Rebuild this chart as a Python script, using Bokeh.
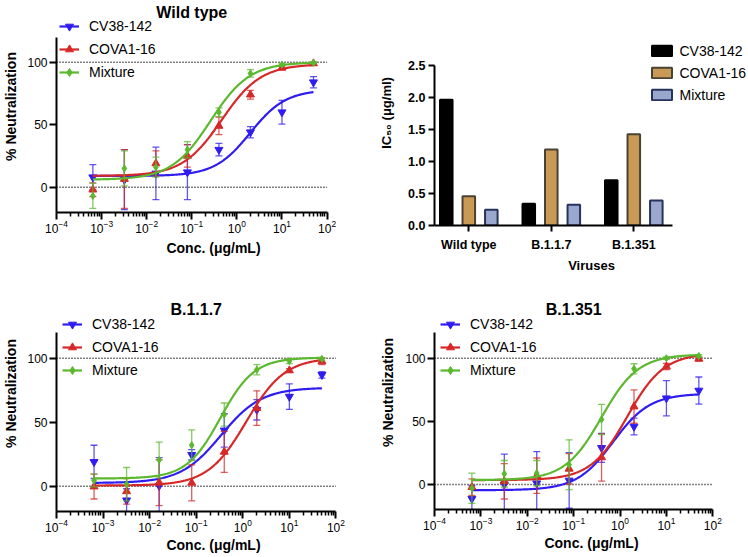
import numpy as np
from bokeh.plotting import figure
from bokeh.models import (Range1d, FixedTicker, Legend, LegendItem, Label,
                          NumeralTickFormatter, ColumnDataSource)
from bokeh.layouts import column, row
from bokeh.transform import dodge
from bokeh.embed import file_html
from bokeh.resources import INLINE

FONT = "Liberation Sans"
BLUE = "#2f1cf0"
RED = "#d62828"
GREEN = "#5cb82e"

series = ["CV38-142", "COVA1-16", "Mixture"]
conc = [0.00064, 0.0032, 0.016, 0.08, 0.4, 2, 10, 50]

# ---- Wild type ----
wt_cv38 = [8, 6, 11, 12, 30, 44, 60, 84]
wt_cv38_err = [10, 24, 21, 22, 5, 4.5, 9.5, 4.5]
wt_cova = [-2, 6.5, 19, 25, 49, 74, 95.5, 99]
wt_cova_err = [5.5, 23.5, 10, 9, 7, 3.5, 1.5, 1]
wt_mix = [-7, 15, 16, 30, 60, 91, 98, 99.5]
wt_mix_err = [10, 14, 8, 6.5, 3.5, 3, 1, 0.8]
# fitted 4PL curves: bottom, top, IC50, hill
wt_fit_cv38 = [9, 78, 1.98, 1.1]
wt_fit_cova = [9, 98.5, 0.46, 1.0]
wt_fit_mix = [6, 100, 0.26, 1.0]

# ---- B.1.1.7 ----
b117_cv38 = [19, -11, 0.3, 24.5, 43.6, 59.7, 70, 87]
b117_cv38_err = [13, 9, 22, 4, 13, 8, 10, 2.5]
b117_cova = [-0.3, -4, 2.8, 2.6, 26.8, 61, 90.4, 97.5]
b117_cova_err = [9.7, 10, 18, 14, 16, 13.5, 1.5, 2.5]
b117_mix = [4.4, 1.6, 20.5, 32, 56, 91, 97.7, 99.5]
b117_mix_err = [5, 13, 14, 12, 9, 4, 2, 1]
b117_fit_cv38 = [2.5, 77, 0.34, 1.0]
b117_fit_cova = [0.5, 100.5, 1.19, 1.05]
b117_fit_mix = [6, 100.5, 0.33, 1.2]

# ---- B.1.351 ----
b1351_cv38 = [-11.3, 0, 1, 3.2, 29, 45.9, 68.3, 74.4]
b1351_cv38_err = [10.5, 24, 25, 22, 11.5, 6.6, 13.9, 10.7]
b1351_cova = [-2.1, 2.5, 7, 12.4, 21.4, 61.7, 93.4, 99.5]
b1351_cova_err = [6.6, 14, 14, 12, 18.7, 13.2, 2.5, 1.5]
b1351_mix = [-3, 8.5, 9, 15.7, 51.5, 91.6, 100, 101.8]
b1351_mix_err = [12, 10.5, 10, 19.7, 12, 4, 1, 1]
b1351_fit_cv38 = [-4.5, 72, 0.71, 1.1]
b1351_fit_cova = [3.5, 104, 1.43, 1.1]
b1351_fit_mix = [3.5, 103, 0.40, 1.1]

# ---- IC50 bar chart ----
viruses = ["Wild type", "B.1.1.7", "B.1.351"]
ic50_cv38 = [1.97, 0.34, 0.71]
ic50_cova = [0.46, 1.19, 1.43]
ic50_mix = [0.245, 0.325, 0.39]

# axis ticks
XMAX = 1e2
YMAX = 120
decades = [1e-4, 1e-3, 1e-2, 1e-1, 1e0, 1e1, 1e2]
minor = [m * 10.0 ** e for e in range(-4, 2) for m in range(2, 10)]
ref_lines = [0, 100]
ic_ticks = [0, 0.5, 1.0, 1.5, 2.0, 2.5]

# ---- page geometry (pixels) ----
COL1_W, COL2_W = 370, 378
ROW1_H, ROW2_H = 275, 281


def style_axis(ax, label_size="12px", bold_labels=False):
    ax.axis_line_width = 2
    ax.axis_line_color = "black"
    ax.major_tick_line_width = 2
    ax.major_tick_line_color = "black"
    ax.major_tick_in = 0
    ax.major_tick_out = 7
    ax.major_label_text_font = FONT
    ax.major_label_text_font_size = label_size
    ax.major_label_text_color = "black"
    if bold_labels:
        ax.major_label_text_font_style = "bold"
    ax.axis_label_text_font = FONT
    ax.axis_label_text_font_style = "bold"
    ax.axis_label_text_color = "black"


def make_fig(w, h, borders, **kw):
    bl, br, bt, bb = borders
    p = figure(width=w, height=h, output_backend="svg", toolbar_location=None,
               min_border_left=bl, min_border_right=br,
               min_border_top=bt, min_border_bottom=bb, **kw)
    p.grid.visible = False
    p.outline_line_color = None
    p.background_fill_color = "white"
    p.border_fill_color = "white"
    return p


def neut_panel(w, h, borders, origin, axpos, title, title_base, leg,
               means, errs, fits, ylab_standoff=5, xlab_standoff=4):
    ox, oy = origin
    bl, br, bt, bb = borders
    L, R, T, B = ox + bl, ox + w - br, oy + bt, oy + h - bb
    xa, xb, y0, y100 = axpos
    d = (xb - xa) / 6.0
    pxu = (y0 - y100) / 100.0
    xr = Range1d(10 ** (-4 - (xa - L) / d), 10 ** (2 + (R - xb) / d))
    yr = Range1d((y0 - B) / pxu, (y0 - T) / pxu)
    p = make_fig(w, h, borders, x_axis_type="log", x_range=xr, y_range=yr)

    xax = p.xaxis[0]
    style_axis(xax)
    xax.ticker = FixedTicker(ticks=decades, minor_ticks=minor)
    xax.bounds = (xr.start, XMAX)
    xax.minor_tick_in = 0
    xax.minor_tick_out = 4
    xax.minor_tick_line_width = 1.5
    xax.minor_tick_line_color = "black"
    xax.major_label_standoff = 0
    xax.axis_label = "Conc. (μg/mL)"
    xax.axis_label_text_font_size = "14px"
    xax.axis_label_standoff = xlab_standoff

    yax = p.yaxis[0]
    style_axis(yax)
    yax.ticker = FixedTicker(ticks=[0, 50, 100])
    yax.bounds = (yr.start, YMAX)
    yax.minor_tick_line_color = None
    yax.major_label_standoff = 2
    yax.axis_label = "% Neutralization"
    yax.axis_label_text_font_size = "14px"
    yax.axis_label_standoff = ylab_standoff

    p.segment(x0=[xr.start] * len(ref_lines), y0=ref_lines, x1=[XMAX] * len(ref_lines),
              y1=ref_lines, line_color="black", line_dash="1 2", line_width=1.4)

    colors = [BLUE, RED, GREEN]
    marks = ["inverted_triangle", "triangle", "diamond"]
    msize = [8, 8, 7]
    items = []
    xs = np.logspace(np.log10(conc[0]), np.log10(conc[-1]), 300)
    for name, m, e, f, c, mk, ms in zip(series, means, errs, fits, colors, marks, msize):
        lo = [a - b for a, b in zip(m, e)]
        hi = [a + b for a, b in zip(m, e)]
        p.segment(x0=conc, y0=lo, x1=conc, y1=hi, line_color=c, line_width=1.3, line_alpha=0.75)
        p.scatter(conc, lo, marker="dash", size=7, line_color=c, line_width=1.3, line_alpha=0.75)
        p.scatter(conc, hi, marker="dash", size=7, line_color=c, line_width=1.3, line_alpha=0.75)
        bottom, top, ic50, hill = f
        ys = bottom + (top - bottom) / (1 + (ic50 / xs) ** hill)
        lr = p.line(xs, ys, line_color=c, line_width=2.2)
        sr = p.scatter(conc, m, marker=mk, size=ms, fill_color=c, line_color=c)
        items.append(LegendItem(label=name, renderers=[lr, sr]))

    gx, row1 = leg
    legend = Legend(items=items, location=(gx - L, B - (row1 - 10 + 66)),
                    glyph_width=20, glyph_height=20, label_height=20, spacing=3,
                    padding=0, margin=0, label_standoff=10,
                    border_line_color=None, background_fill_alpha=0,
                    label_text_font=FONT, label_text_font_size="14px",
                    label_text_color="black")
    p.add_layout(legend)

    p.add_layout(Label(x=0.1, y=(y0 - title_base) / pxu, text=title,
                       text_align="center", text_baseline="alphabetic",
                       text_font=FONT, text_font_style="bold",
                       text_font_size="16px", text_color="black"))
    return p


# borders: left, right, top, bottom  (equal left/right inside each column)
b1 = (52, 0, 0, ROW1_H - 212)
b3 = (52, 0, 0, ROW2_H - (511 - ROW1_H))
b2 = (64, 0, 0, ROW1_H - 226)
b4 = (64, 0, 0, ROW2_H - (509 - ROW1_H))

p1 = neut_panel(COL1_W, ROW1_H, b1, (0, 0), (52, 326, 186.7, 61.7),
                "Wild type", 12, (55, 26),
                [wt_cv38, wt_cova, wt_mix], [wt_cv38_err, wt_cova_err, wt_mix_err],
                [wt_fit_cv38, wt_fit_cova, wt_fit_mix], ylab_standoff=5, xlab_standoff=4)

p3 = neut_panel(COL1_W, ROW2_H, b3, (0, ROW1_H), (52, 335, 485.7, 357.7),
                "B.1.1.7", 308.5, (58, 324.3),
                [b117_cv38, b117_cova, b117_mix], [b117_cv38_err, b117_cova_err, b117_mix_err],
                [b117_fit_cv38, b117_fit_cova, b117_fit_mix], ylab_standoff=5, xlab_standoff=2)

p4 = neut_panel(COL2_W, ROW2_H, b4, (COL1_W, ROW1_H), (434, 712.3, 484, 357.7),
                "B.1.351", 308.5, (440, 324.3),
                [b1351_cv38, b1351_cova, b1351_mix], [b1351_cv38_err, b1351_cova_err, b1351_mix_err],
                [b1351_fit_cv38, b1351_fit_cova, b1351_fit_mix], ylab_standoff=6, xlab_standoff=2)

# ---- bar chart ----
bl_, br_, bt_, bb_ = b2
L2, R2, T2, B2 = COL1_W + bl_, COL1_W + COL2_W - br_, bt_, ROW1_H - bb_
cat0, unit = 468.3, 82.5          # pixel of first category, pixels per category
y0b, pxub = 226.0, 64.12          # pixel of IC50 = 0, pixels per unit
bxr = Range1d(-(cat0 - L2) / unit, (R2 - cat0) / unit)
p2 = make_fig(COL2_W, ROW1_H, b2, x_range=bxr,
              y_range=Range1d((y0b - B2) / pxub, (y0b - T2) / pxub))
src = ColumnDataSource(dict(x=[0, 1, 2], cv38=ic50_cv38, cova=ic50_cova, mix=ic50_mix))
bw = 0.152
r1 = p2.vbar(x=dodge("x", -0.273), top="cv38", width=bw, source=src,
             fill_color="black", line_color="black", line_width=2)
r2 = p2.vbar(x=dodge("x", 0.0), top="cova", width=bw, source=src,
             fill_color="#c99a55", line_color="#4a4232", line_width=2)
r3 = p2.vbar(x=dodge("x", 0.273), top="mix", width=bw, source=src,
             fill_color="#9aa7cf", line_color="#27335e", line_width=2)

bx = p2.xaxis[0]
style_axis(bx, "12.5px", bold_labels=True)
bx.ticker = FixedTicker(ticks=[0, 1, 2])
bx.bounds = (bxr.start, 2.47)
bx.major_label_overrides = {0: viruses[0], 1: viruses[1], 2: viruses[2]}
bx.minor_tick_line_color = None
bx.major_tick_out = 6
bx.major_label_standoff = 6
bx.axis_label = "Viruses"
bx.axis_label_text_font_size = "13px"
bx.axis_label_standoff = 3

by = p2.yaxis[0]
style_axis(by, "12.5px", bold_labels=True)
by.ticker = FixedTicker(ticks=ic_ticks)
by.bounds = (0, 2.5)
by.formatter = NumeralTickFormatter(format="0.0")
by.minor_tick_line_color = None
by.major_tick_out = 6
by.major_label_standoff = 3
by.axis_label = "IC₅₀ (μg/ml)"
by.axis_label_text_font_size = "13px"
by.axis_label_standoff = 11

bleg = Legend(items=[LegendItem(label=series[0], renderers=[r1]),
                     LegendItem(label=series[1], renderers=[r2]),
                     LegendItem(label=series[2], renderers=[r3])],
              location=(648.5 - L2, B2 - (43.9 + 60)),
              glyph_width=25, glyph_height=13, label_height=16, spacing=6,
              padding=0, margin=0, label_standoff=6,
              border_line_color=None, background_fill_alpha=0,
              label_text_font=FONT, label_text_font_size="14px",
              label_text_color="black")
p2.add_layout(bleg)

layout = row(column(p1, p3), column(p2, p4))
open("out.html", "w").write(file_html(layout, INLINE))
